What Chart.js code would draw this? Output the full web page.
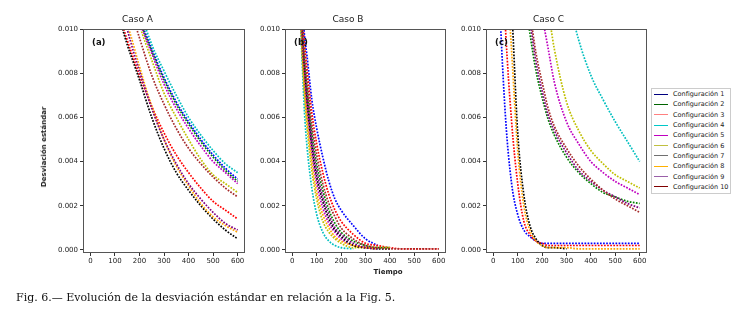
<!DOCTYPE html>
<html lang="es">
<head>
  <meta charset="UTF-8" />
  <title>Evolución de la desviación estándar</title>
  <script src="https://cdn.jsdelivr.net/npm/chart.js"></script>
  <style>
    body {
      margin: 0;
      background: #fff;
      font-family: 'DejaVu Sans', sans-serif;
      color: #222;
    }

    #fig {
      position: relative;
      width: 746px;
      height: 312px;
      overflow: hidden;
    }

    canvas {
      position: absolute;
      top: 0;
    }

    #chartA { left: 30px; }
    #chartB { left: 250px; }
    #chartC { left: 450px; }

    .legend {
      position: absolute;
      left: 651px;
      top: 88px;
      width: 78px;
      border: 1px solid #ccc;
      padding: 0 0 1px 0;
      font-size: 6.5px;
      background: #fff;
    }

    .legend div {
      height: 10.3px;
      display: flex;
      align-items: center;
      white-space: nowrap;
    }

    .legend .swatch {
      display: inline-block;
      width: 14px;
      height: 0;
      border-top-width: 1.3px;
      border-top-style: solid;
      margin: 0 5px 0 2px;
    }

    .axis-label {
      position: absolute;
      font-weight: bold;
      font-size: 7px;
      white-space: nowrap;
    }

    #ylabel {
      left: 44px;
      top: 147px;
      transform: translate(-50%, -50%) rotate(-90deg);
    }

    #xlabel {
      left: 388px;
      top: 272px;
      transform: translate(-50%, -50%);
    }

    #caption {
      position: absolute;
      left: 16px;
      top: 291px;
      font-family: 'DejaVu Serif', serif;
      font-size: 11px;
      white-space: nowrap;
      color: #111;
    }
  </style>
</head>
<body>
<div id="fig">
  <canvas id="chartA" width="220" height="290"></canvas>
  <canvas id="chartB" width="200" height="290"></canvas>
  <canvas id="chartC" width="200" height="290"></canvas>
  <div id="ylabel" class="axis-label">Desviación estándar</div>
  <div id="xlabel" class="axis-label">Tiempo</div>
  <div class="legend" id="legend"></div>
  <div id="caption">Fig. 6.— Evolución de la desviación estándar en relación a la Fig. 5.</div>
</div>

<script>
  const configNames = ['Configuración 1', 'Configuración 2', 'Configuración 3', 'Configuración 4', 'Configuración 5',
                       'Configuración 6', 'Configuración 7', 'Configuración 8', 'Configuración 9', 'Configuración 10'];
  const lineColors = ['#0000ff', '#008000', '#ff0000', '#00bfbf', '#bf00bf', '#bfbf00', '#000000', '#ffa500', '#800080', '#a52a2a'];
  const legendColors = ['#000080', '#006400', '#ff8080', '#00c8c8', '#c000c0', '#c0c040', '#707070', '#ffb000', '#9a60a8', '#800000'];

  const xTicks = [0, 100, 200, 300, 400, 500, 600];
  const yTicks = [0, 0.002, 0.004, 0.006, 0.008, 0.010];

  // Caso A
  const xA = [100, 125, 150, 175, 200, 250, 300, 350, 400, 450, 500, 550, 600];
  const caseA = [
    [null, null, 0.0132, 0.0118, 0.0106, 0.0091, 0.0078, 0.0067, 0.0058, 0.0050, 0.0043, 0.0037, 0.0032],
    [null, null, 0.0131, 0.0117, 0.0105, 0.0090, 0.0077, 0.0066, 0.0057, 0.0049, 0.0042, 0.0036, 0.0031],
    [0.0122, 0.0105, 0.0095, 0.0087, 0.0079, 0.0065, 0.0053, 0.0043, 0.0035, 0.0028, 0.0022, 0.0018, 0.0014],
    [null, null, 0.0138, 0.0123, 0.0110, 0.0093, 0.0081, 0.0070, 0.0060, 0.0052, 0.0045, 0.0039, 0.0035],
    [null, null, 0.0130, 0.0116, 0.0104, 0.0089, 0.0075, 0.0064, 0.0055, 0.0047, 0.0040, 0.0035, 0.0030],
    [null, 0.0140, 0.0126, 0.0113, 0.0102, 0.0086, 0.0071, 0.0060, 0.0050, 0.0041, 0.0034, 0.0030, 0.0026],
    [0.0118, 0.0103, 0.0093, 0.0085, 0.0077, 0.0060, 0.0046, 0.0035, 0.0027, 0.0020, 0.0014, 0.0009, 0.0005],
    [0.0132, 0.0116, 0.0103, 0.0093, 0.0083, 0.0065, 0.0050, 0.0038, 0.0029, 0.0021, 0.0015, 0.0011, 0.0008],
    [0.0128, 0.0112, 0.0100, 0.0090, 0.0081, 0.0064, 0.0050, 0.0039, 0.0030, 0.0023, 0.0017, 0.0012, 0.0009],
    [0.0140, 0.0127, 0.0115, 0.0105, 0.0096, 0.0079, 0.0066, 0.0055, 0.0046, 0.0039, 0.0033, 0.0028, 0.0024]
  ];

  // Caso B
  const xB = [25, 40, 50, 60, 80, 100, 125, 150, 175, 200, 250, 300, 350, 400, 450, 500, 600];
  const caseB = [
    [0.0150, 0.0112, 0.0097, 0.0088, 0.0068, 0.0055, 0.0042, 0.0031, 0.0023, 0.0018, 0.0011, 0.0005, 0.0002, null, null, null, null],
    [0.0140, 0.0101, 0.0085, 0.0073, 0.0053, 0.0039, 0.0027, 0.0018, 0.0012, 0.0008, 0.0004, 0.0002, 0.0001, 0.0001, null, null, null],
    [0.0145, 0.0108, 0.0093, 0.0082, 0.0062, 0.0048, 0.0035, 0.0025, 0.0018, 0.0013, 0.0007, 0.0003, 0.0002, 0.0001, 0.00005, 0.00005, 0.00005],
    [0.0128, 0.0086, 0.0062, 0.0047, 0.0028, 0.0016, 0.0008, 0.0004, 0.0002, 0.0001, 0.00005, null, null, null, null, null, null],
    [0.0134, 0.0094, 0.0076, 0.0064, 0.0044, 0.0030, 0.0019, 0.0012, 0.0008, 0.0005, 0.0002, 0.0001, null, null, null, null, null],
    [0.0130, 0.0090, 0.0070, 0.0056, 0.0036, 0.0023, 0.0013, 0.0008, 0.0005, 0.0003, 0.0001, 0.0001, 0.0001, 0.0001, null, null, null],
    [0.0136, 0.0096, 0.0079, 0.0067, 0.0047, 0.0033, 0.0022, 0.0014, 0.0009, 0.0006, 0.0002, 0.0001, 0.00005, 0.00005, null, null, null],
    [0.0132, 0.0092, 0.0073, 0.0060, 0.0040, 0.0026, 0.0016, 0.0010, 0.0006, 0.0004, 0.0002, 0.0001, 0.00005, null, null, null, null],
    [0.0138, 0.0098, 0.0082, 0.0070, 0.0050, 0.0036, 0.0024, 0.0016, 0.0010, 0.0007, 0.0003, 0.0001, 0.00005, null, null, null, null],
    [0.0142, 0.0104, 0.0088, 0.0077, 0.0057, 0.0043, 0.0030, 0.0021, 0.0015, 0.0010, 0.0005, 0.0002, 0.0001, 0.00005, 0.00005, 0.00005, 0.00005]
  ];

  // Caso C
  const xC = [0, 25, 50, 75, 100, 125, 150, 175, 200, 225, 250, 300, 350, 400, 450, 500, 550, 600];
  const caseC = [
    [0.0200, 0.0115, 0.0060, 0.0030, 0.0016, 0.0009, 0.0006, 0.0004, 0.0003, 0.0003, 0.0003, 0.0003, 0.0003, 0.0003, 0.0003, 0.0003, 0.0003, 0.0003],
    [null, null, null, null, null, 0.0118, 0.0098, 0.0081, 0.0069, 0.0059, 0.0052, 0.0042, 0.0035, 0.0030, 0.0026, 0.0024, 0.0022, 0.0021],
    [null, 0.0160, 0.0100, 0.0058, 0.0030, 0.0013, 0.0007, 0.0004, 0.0003, 0.0002, 0.0002, 0.0002, 0.0002, 0.0002, 0.0002, 0.0002, 0.0002, 0.0002],
    [null, null, null, null, null, null, null, null, null, null, null, 0.0117, 0.0095, 0.0079, 0.0068, 0.0058, 0.0049, 0.0040],
    [null, null, null, null, null, null, null, 0.0122, 0.0106, 0.0091, 0.0076, 0.0058, 0.0048, 0.0040, 0.0035, 0.0031, 0.0028, 0.0025],
    [null, null, null, null, null, null, null, null, 0.0120, 0.0108, 0.0091, 0.0067, 0.0054, 0.0045, 0.0039, 0.0034, 0.0031, 0.0028],
    [null, null, 0.0150, 0.0110, 0.0053, 0.0025, 0.0011, 0.0005, 0.0002, 0.0001, 0.0001, 0.00005, null, null, null, null, null, null],
    [null, null, 0.0135, 0.0090, 0.0045, 0.0020, 0.0009, 0.0004, 0.0002, 0.0001, 0.0001, 0.0001, 0.00005, 0.00005, 0.00005, 0.00005, 0.00005, 0.00005],
    [null, null, null, null, null, 0.0125, 0.0104, 0.0085, 0.0072, 0.0061, 0.0054, 0.0044, 0.0036, 0.0031, 0.0027, 0.0024, 0.0021, 0.0019],
    [null, null, null, null, null, 0.0130, 0.0108, 0.0089, 0.0076, 0.0064, 0.0056, 0.0046, 0.0038, 0.0032, 0.0027, 0.0023, 0.0020, 0.0017]
  ];

  const FONT = "'DejaVu Sans', sans-serif";

  // frame around the plot area + panel letter, matplotlib style
  const framePlugin = {
    id: 'frame',
    afterDraw(chart, args, opts) {
      const { ctx, chartArea } = chart;
      ctx.save();
      ctx.strokeStyle = '#555';
      ctx.lineWidth = 1;
      ctx.strokeRect(Math.round(chartArea.left) + 0.5, Math.round(chartArea.top) + 0.5,
                     Math.round(chartArea.right - chartArea.left) - 1, Math.round(chartArea.bottom - chartArea.top) - 1);
      ctx.font = 'bold 8.5px ' + FONT;
      ctx.fillStyle = '#111';
      ctx.textBaseline = 'middle';
      ctx.fillText(opts.tag, chartArea.left + 9, chartArea.top + 14);
      ctx.restore();
    }
  };

  function makePanel(id, title, tag, xs, series, yWidth, rightPad) {
    const datasets = series.map((vals, i) => ({
      label: configNames[i],
      data: xs.map((x, j) => ({ x: x, y: vals[j] })),
      borderColor: lineColors[i],
      borderWidth: 1.7,
      borderDash: [1.7, 1.4],
      pointRadius: 0,
      fill: false,
      cubicInterpolationMode: 'monotone',
      clip: 0,
      order: series.length - i
    }));

    return new Chart(document.getElementById(id), {
      type: 'line',
      data: { datasets },
      plugins: [framePlugin],
      options: {
        responsive: false,
        animation: false,
        layout: { padding: { left: 0, right: rightPad, top: 0, bottom: 0 } },
        plugins: {
          legend: { display: false },
          tooltip: { enabled: false },
          frame: { tag: tag },
          title: {
            display: true,
            text: title,
            color: '#222',
            font: { family: FONT, size: 9, weight: 'normal' },
            padding: { top: 14, bottom: 4.2 }
          }
        },
        scales: {
          x: {
            type: 'linear',
            min: -30,
            max: 630,
            border: { display: false },
            grid: { drawOnChartArea: false, tickLength: 3, color: '#333' },
            ticks: { color: '#222', font: { family: FONT, size: 7 }, padding: 1, autoSkip: false, maxRotation: 0 },
            afterBuildTicks: s => { s.ticks = xTicks.map(v => ({ value: v })); },
            afterFit: s => { s.height = 37; }
          },
          y: {
            min: -0.00014,
            max: 0.010,
            border: { display: false },
            grid: { drawOnChartArea: false, tickLength: 3, color: '#333' },
            ticks: { color: '#222', font: { family: FONT, size: 7 }, padding: 2, callback: v => v.toFixed(3) },
            afterBuildTicks: s => { s.ticks = yTicks.map(v => ({ value: v })); },
            afterFit: s => { s.width = yWidth; }
          }
        }
      }
    });
  }

  makePanel('chartA', 'Caso A', '(a)', xA, caseA, 53, 5);
  makePanel('chartB', 'Caso B', '(b)', xB, caseB, 35, 4);
  makePanel('chartC', 'Caso C', '(c)', xC, caseC, 36, 3);

  // legend
  const legend = document.getElementById('legend');
  configNames.forEach((name, i) => {
    const row = document.createElement('div');
    const sw = document.createElement('span');
    sw.className = 'swatch';
    sw.style.borderTopColor = legendColors[i];
    row.appendChild(sw);
    row.appendChild(document.createTextNode(name));
    legend.appendChild(row);
  });
</script>
</body>
</html>
